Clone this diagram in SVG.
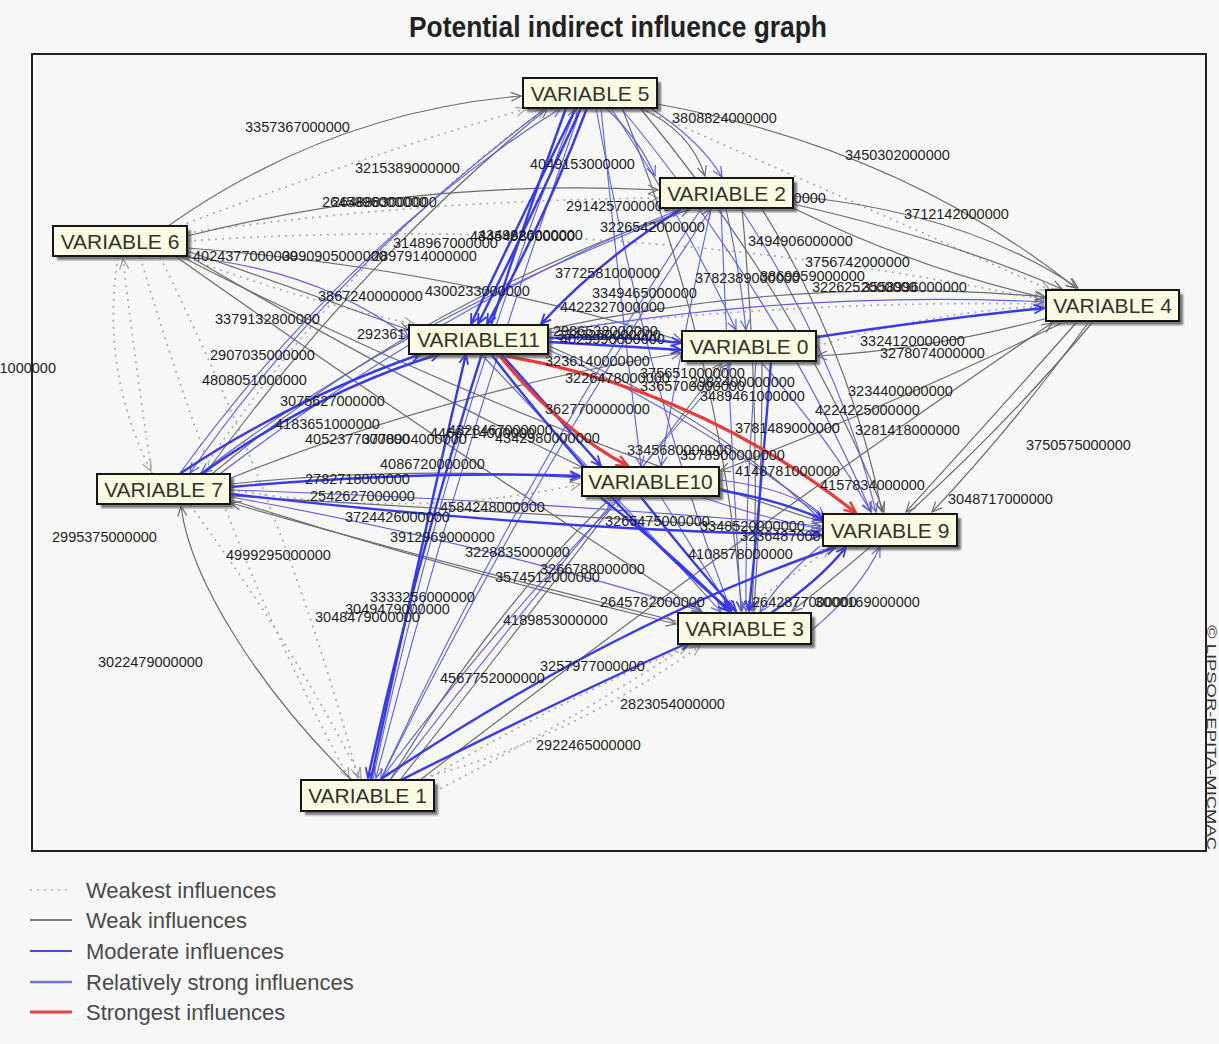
<svg xmlns="http://www.w3.org/2000/svg" width="1219" height="1044" viewBox="0 0 1219 1044">
<defs>
<style>
.e{fill:none}
.w0{stroke:#ababab;stroke-width:1.7;stroke-dasharray:2 5;marker-end:url(#aD)}
.w1{stroke:#6c6c6c;stroke-width:1.2;marker-end:url(#aG)}
.w2{stroke:#5d5de6;stroke-width:1.1;marker-end:url(#aB)}
.w3{stroke:#3838ee;stroke-width:2.4;marker-end:url(#aS)}
.w4{stroke:#ea3a3a;stroke-width:3.2;marker-end:url(#aR)}
.lb{font-family:"Liberation Sans",Arial,sans-serif;font-size:14.5px;fill:#1e1e1e}
.sh{fill:#4a4a4a;opacity:.75;filter:url(#soft)}
.bx{fill:#fbfbe4;stroke:#161616;stroke-width:2}
.nt{font-family:"Liberation Sans",Arial,sans-serif;font-size:21px;fill:#333328;text-anchor:middle}
.lg{font-family:"Liberation Sans",Arial,sans-serif;font-size:22px;fill:#4a4a4a}
</style>
<filter id="soft" x="-10%" y="-30%" width="130%" height="180%"><feGaussianBlur stdDeviation="1.2"/></filter>
<marker id="aD" viewBox="0 0 12 12" refX="11" refY="6" markerWidth="12" markerHeight="12" markerUnits="userSpaceOnUse" orient="auto"><path d="M1 1.5L11 6L1 10.5" fill="none" stroke="#a0a0a0" stroke-width="1.2"/></marker>
<marker id="aG" viewBox="0 0 12 12" refX="11" refY="6" markerWidth="12" markerHeight="12" markerUnits="userSpaceOnUse" orient="auto"><path d="M1 1.5L11 6L1 10.5" fill="none" stroke="#6c6c6c" stroke-width="1.2"/></marker>
<marker id="aB" viewBox="0 0 12 12" refX="11" refY="6" markerWidth="12" markerHeight="12" markerUnits="userSpaceOnUse" orient="auto"><path d="M1 1.5L11 6L1 10.5" fill="none" stroke="#5d5de6" stroke-width="1.2"/></marker>
<marker id="aS" viewBox="0 0 12 12" refX="11" refY="6" markerWidth="12" markerHeight="12" markerUnits="userSpaceOnUse" orient="auto"><path d="M1 1.5L11 6L1 10.5" fill="none" stroke="#3838ee" stroke-width="1.8"/></marker>
<marker id="aR" viewBox="0 0 12 12" refX="11" refY="6" markerWidth="14" markerHeight="14" markerUnits="userSpaceOnUse" orient="auto"><path d="M1 1.5L11 6L1 10.5" fill="none" stroke="#ea3a3a" stroke-width="2"/></marker>
</defs>

<rect width="1219" height="1044" fill="#f7f7f7"/>
<text x="618" y="37" text-anchor="middle" font-family="'Liberation Sans Narrow','Liberation Sans',Arial,sans-serif" font-weight="bold" font-size="29" fill="#222" textLength="418" lengthAdjust="spacingAndGlyphs">Potential indirect influence graph</text>
<rect x="32" y="54" width="1174" height="797" fill="none" stroke="#222" stroke-width="2"/>

<!-- connectors -->
<g id="connectors">
<!-- weakest -->
<path class="e w0" d="M118 257Q100 370 151 471"/>
<path class="e w0" d="M152 474Q136 370 123 259"/>
<path class="e w0" d="M140 257Q230 560 349 778"/>
<path class="e w0" d="M160 257Q290 520 358 778"/>
<path class="e w0" d="M190 505Q290 640 361 778"/>
<path class="e w0" d="M426 780Q560 700 688 646"/>
<path class="e w0" d="M410 781Q560 745 700 646"/>
<path class="e w0" d="M180 226Q380 150 526 109"/>
<path class="e w0" d="M187 241Q620 212 1044 300"/>
<path class="e w0" d="M187 233Q420 200 658 198"/>
<path class="e w0" d="M200 474Q350 250 545 109"/>
<path class="e w0" d="M817 346Q930 312 1044 306"/>
<path class="e w0" d="M187 258Q300 300 414 324"/>
<path class="e w0" d="M549 330Q800 300 1044 304"/>
<path class="e w0" d="M434 792Q650 680 830 548"/>
<path class="e w0" d="M231 490Q420 520 580 484"/>
<path class="e w0" d="M640 108Q850 200 1050 290"/>
<!-- weak -->
<path class="e w1" d="M168 226Q330 112 521 96"/>
<path class="e w1" d="M187 236Q420 178 658 190"/>
<path class="e w1" d="M657 104Q900 148 1076 288"/>
<path class="e w1" d="M793 196Q965 212 1078 288"/>
<path class="e w1" d="M793 204Q950 240 1062 289"/>
<path class="e w1" d="M793 208Q920 270 1046 298"/>
<path class="e w1" d="M549 329Q800 275 1045 297"/>
<path class="e w1" d="M1076 323Q990 420 906 512"/>
<path class="e w1" d="M1088 323Q1010 430 932 512"/>
<path class="e w1" d="M1092 323Q960 480 792 611"/>
<path class="e w1" d="M1062 323Q880 410 720 471"/>
<path class="e w1" d="M1048 318Q930 350 817 356"/>
<path class="e w1" d="M187 251Q300 290 409 330"/>
<path class="e w1" d="M187 255Q400 380 584 468"/>
<path class="e w1" d="M187 248Q450 268 682 341"/>
<path class="e w1" d="M180 256Q500 420 822 522"/>
<path class="e w1" d="M231 484Q400 466 580 478"/>
<path class="e w1" d="M231 496Q530 515 821 531"/>
<path class="e w1" d="M231 500Q450 570 676 624"/>
<path class="e w1" d="M231 478Q450 390 681 353"/>
<path class="e w1" d="M212 474Q420 300 690 209"/>
<path class="e w1" d="M205 474Q360 260 548 108"/>
<path class="e w1" d="M352 780C260 690 190 580 181 506"/>
<path class="e w1" d="M390 780Q500 600 612 497"/>
<path class="e w1" d="M400 780Q580 550 722 363"/>
<path class="e w1" d="M420 780Q760 520 1052 323"/>
<path class="e w1" d="M640 108Q690 130 705 176"/>
<path class="e w1" d="M762 209Q850 350 882 512"/>
<path class="e w1" d="M742 209Q762 420 752 611"/>
<path class="e w1" d="M762 362Q762 490 754 611"/>
<path class="e w1" d="M549 346Q720 420 822 521"/>
<path class="e w1" d="M676 621Q430 560 231 503"/>
<path class="e w1" d="M640 108Q800 300 884 512"/>
<path class="e w1" d="M622 108Q720 350 742 611"/>
<path class="e w1" d="M175 256Q450 450 702 612"/>
<!-- moderate -->
<path class="e w2" d="M546 108Q330 270 190 473"/>
<path class="e w2" d="M601 108Q620 300 641 466"/>
<path class="e w2" d="M611 108Q690 230 736 330"/>
<path class="e w2" d="M621 108Q780 300 871 512"/>
<path class="e w2" d="M596 108Q650 400 731 611"/>
<path class="e w2" d="M650 108Q700 140 722 177"/>
<path class="e w2" d="M690 209Q400 320 201 473"/>
<path class="e w2" d="M701 209Q520 480 381 779"/>
<path class="e w2" d="M711 209Q680 350 661 466"/>
<path class="e w2" d="M726 209Q740 270 746 330"/>
<path class="e w2" d="M741 209Q840 360 876 512"/>
<path class="e w2" d="M721 209Q730 420 741 611"/>
<path class="e w2" d="M180 473Q350 240 561 108"/>
<path class="e w2" d="M221 473Q450 300 681 209"/>
<path class="e w2" d="M373 779Q450 420 576 108"/>
<path class="e w2" d="M381 779Q540 460 711 209"/>
<path class="e w2" d="M391 779Q560 560 731 363"/>
<path class="e w2" d="M381 779Q500 620 621 497"/>
<path class="e w2" d="M481 354Q620 500 721 612"/>
<path class="e w2" d="M701 497Q770 520 822 529"/>
<path class="e w2" d="M761 362Q830 440 871 512"/>
<path class="e w2" d="M756 362Q745 500 746 611"/>
<path class="e w2" d="M231 490Q520 500 821 526"/>
<path class="e w2" d="M231 497Q470 540 701 611"/>
<path class="e w2" d="M549 333Q800 290 1044 302"/>
<path class="e w2" d="M661 497Q700 560 731 611"/>
<path class="e w2" d="M581 108Q460 450 376 778"/>
<path class="e w2" d="M187 257Q320 270 409 338"/>
<path class="e w2" d="M549 350Q700 420 825 517"/>
<path class="e w2" d="M720 480Q800 490 824 520"/>
<path class="e w2" d="M820 546Q780 580 760 612"/>
<path class="e w2" d="M812 630Q860 590 880 547"/>
<path class="e w2" d="M606 108Q640 140 655 176"/>
<!-- relatively strong -->
<path class="e w3" d="M576 108Q520 220 471 324"/>
<path class="e w3" d="M587 108Q545 220 487 324"/>
<path class="e w3" d="M581 108Q530 220 478 324"/>
<path class="e w3" d="M566 108Q440 450 368 778"/>
<path class="e w3" d="M181 473Q290 400 421 354"/>
<path class="e w3" d="M201 474Q320 390 440 354"/>
<path class="e w3" d="M491 354Q620 520 731 611"/>
<path class="e w3" d="M641 497Q690 560 736 611"/>
<path class="e w3" d="M381 779Q620 620 836 547"/>
<path class="e w3" d="M401 780Q560 700 690 642"/>
<path class="e w3" d="M771 613Q820 580 846 547"/>
<path class="e w3" d="M817 337Q930 320 1044 308"/>
<path class="e w3" d="M549 338Q620 335 681 343"/>
<path class="e w3" d="M549 342Q620 346 681 350"/>
<path class="e w3" d="M681 209Q600 260 541 324"/>
<path class="e w3" d="M371 779Q420 550 466 354"/>
<path class="e w3" d="M719 490Q780 500 824 520"/>
<path class="e w3" d="M501 354Q560 420 601 466"/>
<path class="e w3" d="M771 362Q760 500 749 611"/>
<path class="e w3" d="M231 487Q420 470 580 476"/>
<path class="e w3" d="M231 494Q540 530 821 535"/>
<path class="e w3" d="M600 497Q680 560 728 611"/>
</g>
<g id="strongest">
<path class="e w4" d="M506 356Q700 390 856 513"/>
<path class="e w4" d="M500 356Q560 430 628 466"/>
</g>

<!-- edge values -->
<g id="values" class="lb">
<text x="245" y="132">3357367000000</text>
<text x="355" y="173">3215389000000</text>
<text x="322" y="207">2645896000000</text>
<text x="332" y="207">2648883000000</text>
<text x="530" y="169">4049153000000</text>
<text x="672" y="123">3808824000000</text>
<text x="845" y="160">3450302000000</text>
<text x="904" y="219">3712142000000</text>
<text x="566" y="211">2914257000000</text>
<text x="600" y="232">3226542000000</text>
<text x="721" y="203">3318900000000</text>
<text x="748" y="246">3494906000000</text>
<text x="805" y="267">3756742000000</text>
<text x="695" y="283">3782389000000</text>
<text x="760" y="281">3869959000000</text>
<text x="812" y="292">3226252000000</text>
<text x="862" y="292">3558996000000</text>
<text x="193" y="261">4024377000000</text>
<text x="282" y="261">3990905000000</text>
<text x="372" y="261">2897914000000</text>
<text x="393" y="248">3148967000000</text>
<text x="470" y="241">4345498000000</text>
<text x="478" y="240">4349826000000</text>
<text x="555" y="278">3772581000000</text>
<text x="318" y="301">3867240000000</text>
<text x="425" y="296">4300233000000</text>
<text x="592" y="298">3349465000000</text>
<text x="560" y="312">4422327000000</text>
<text x="215" y="324">3379132800000</text>
<text x="357" y="339">2923617000000</text>
<text x="210" y="360">2907035000000</text>
<text x="202" y="385">4808051000000</text>
<text x="280" y="406">3075627000000</text>
<text x="275" y="429">4183651000000</text>
<text x="305" y="444">4052377000000</text>
<text x="362" y="444">3778904000000</text>
<text x="430" y="438">4466714000000</text>
<text x="56" y="373" text-anchor="end">3157621000000</text>
<text x="52" y="542">2995375000000</text>
<text x="226" y="560">4999295000000</text>
<text x="98" y="667">3022479000000</text>
<text x="315" y="622">3048479000000</text>
<text x="345" y="614">3049479000000</text>
<text x="370" y="602">3333256000000</text>
<text x="503" y="625">4189853000000</text>
<text x="495" y="582">3574512000000</text>
<text x="540" y="574">3266788000000</text>
<text x="465" y="557">3228835000000</text>
<text x="390" y="542">3912969000000</text>
<text x="345" y="522">3724426000000</text>
<text x="305" y="484">2782718000000</text>
<text x="310" y="501">2542627000000</text>
<text x="380" y="469">4086720000000</text>
<text x="440" y="512">4584248000000</text>
<text x="448" y="435">4328467000000</text>
<text x="495" y="443">4342980000000</text>
<text x="440" y="683">4567752000000</text>
<text x="540" y="671">3257977000000</text>
<text x="620" y="709">2823054000000</text>
<text x="536" y="750">2922465000000</text>
<text x="600" y="607">2645782000000</text>
<text x="752" y="607">2642877000000</text>
<text x="815" y="607">3000169000000</text>
<text x="688" y="559">4108578000000</text>
<text x="605" y="526">3265475000000</text>
<text x="700" y="531">3348520000000</text>
<text x="740" y="541">3236487000000</text>
<text x="735" y="476">4148781000000</text>
<text x="820" y="490">4157834000000</text>
<text x="948" y="504">3048717000000</text>
<text x="1026" y="450">3750575000000</text>
<text x="735" y="433">3781489000000</text>
<text x="855" y="435">3281418000000</text>
<text x="848" y="396">3234400000000</text>
<text x="815" y="415">4224225000000</text>
<text x="860" y="346">3324120000000</text>
<text x="880" y="358">3278074000000</text>
<text x="700" y="401">3489461000000</text>
<text x="545" y="414">3627700000000</text>
<text x="565" y="383">3226478000000</text>
<text x="640" y="378">3756510000000</text>
<text x="627" y="455">3345680000000</text>
<text x="680" y="460">3578900000000</text>
<text x="553" y="336">2986538000000</text>
<text x="556" y="340">3343260000000</text>
<text x="560" y="344">4029990000000</text>
<text x="545" y="366">3236140000000</text>
<text x="640" y="391">3365700000000</text>
<text x="690" y="387">2982400000000</text>
</g>

<!-- variables -->
<g id="v5"><rect class="sh" x="527" y="82" width="134" height="30"/><rect class="bx" x="523" y="78" width="134" height="30"/><text class="nt" x="590" y="101">VARIABLE 5</text></g>
<g id="v2"><rect class="sh" x="664" y="182" width="133" height="30"/><rect class="bx" x="660" y="178" width="133" height="30"/><text class="nt" x="726.5" y="201">VARIABLE 2</text></g>
<g id="v6"><rect class="sh" x="57" y="230" width="134" height="30"/><rect class="bx" x="53" y="226" width="134" height="30"/><text class="nt" x="120" y="249">VARIABLE 6</text></g>
<g id="v4"><rect class="sh" x="1050" y="294" width="133" height="31"/><rect class="bx" x="1046" y="290" width="133" height="31"/><text class="nt" x="1112.5" y="313">VARIABLE 4</text></g>
<g id="v11"><rect class="sh" x="413" y="329" width="139" height="29"/><rect class="bx" x="409" y="325" width="139" height="29"/><text class="nt" x="478.5" y="347">VARIABLE11</text></g>
<g id="v0"><rect class="sh" x="686" y="335" width="134" height="30"/><rect class="bx" x="682" y="331" width="134" height="30"/><text class="nt" x="749" y="354">VARIABLE 0</text></g>
<g id="v7"><rect class="sh" x="101" y="478" width="133" height="30"/><rect class="bx" x="97" y="474" width="133" height="30"/><text class="nt" x="163.5" y="497">VARIABLE 7</text></g>
<g id="v10"><rect class="sh" x="586" y="471" width="137" height="29"/><rect class="bx" x="582" y="467" width="137" height="29"/><text class="nt" x="650.5" y="489">VARIABLE10</text></g>
<g id="v9"><rect class="sh" x="827" y="518" width="134" height="32"/><rect class="bx" x="823" y="514" width="134" height="32"/><text class="nt" x="890" y="538">VARIABLE 9</text></g>
<g id="v3"><rect class="sh" x="682" y="617" width="133" height="31"/><rect class="bx" x="678" y="613" width="133" height="31"/><text class="nt" x="744.5" y="636">VARIABLE 3</text></g>
<g id="v1"><rect class="sh" x="305" y="784" width="133" height="31"/><rect class="bx" x="301" y="780" width="133" height="31"/><text class="nt" x="367.5" y="803">VARIABLE 1</text></g>

<text transform="translate(1207,625) rotate(90)" font-family="'Liberation Sans',Arial,sans-serif" font-size="13" fill="#333" textLength="225" lengthAdjust="spacingAndGlyphs">© LIPSOR-EPITA-MICMAC</text>

<!-- legend -->
<g id="legend">
<line x1="30" y1="890" x2="72" y2="890" stroke="#b0b0b0" stroke-width="1.7" stroke-dasharray="2 5"/>
<line x1="30" y1="920" x2="72" y2="920" stroke="#555" stroke-width="1.6"/>
<line x1="30" y1="951" x2="72" y2="951" stroke="#4a4ad2" stroke-width="2"/>
<line x1="30" y1="982" x2="72" y2="982" stroke="#7474d6" stroke-width="2.4"/>
<line x1="30" y1="1012" x2="72" y2="1012" stroke="#e84444" stroke-width="3.2"/>
<text class="lg" x="86" y="898">Weakest influences</text>
<text class="lg" x="86" y="928">Weak influences</text>
<text class="lg" x="86" y="959">Moderate influences</text>
<text class="lg" x="86" y="990">Relatively strong influences</text>
<text class="lg" x="86" y="1020">Strongest influences</text>
</g>
</svg>
